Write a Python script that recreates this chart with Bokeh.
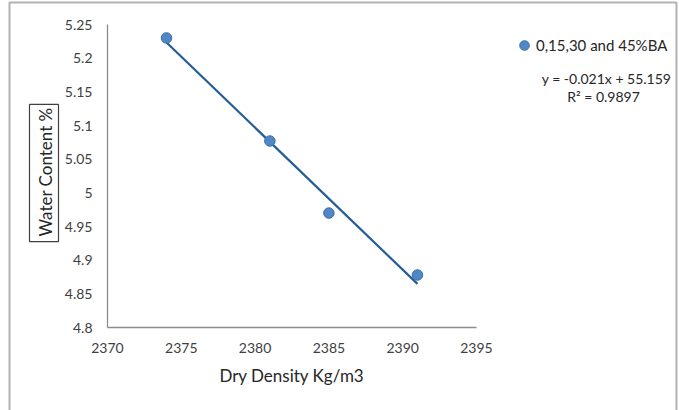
import numpy as np
from bokeh.plotting import figure
from bokeh.models import Range1d, Label, Legend, LegendItem, BoxAnnotation, FixedTicker, ColumnDataSource
from bokeh.embed import file_html
from bokeh.resources import INLINE

# data
dry_density = [2374, 2381, 2385, 2391]
water_content = [5.23, 5.077, 4.97, 4.878]
x_ticks = [2370, 2375, 2380, 2385, 2390, 2395]
y_ticks = [4.8, 4.85, 4.9, 4.95, 5.0, 5.05, 5.1, 5.15, 5.2, 5.25]
x_min, x_max = 2370, 2395
y_min, y_max = 4.8, 5.25
series_name = "0,15,30 and 45%BA"
equation_text = "y = -0.021x + 55.159"
r2_text = "R² = 0.9897"
x_title = "Dry Density Kg/m3"
y_title = "Water Content %"

FONT = "Lato"
W, H = 679, 410
# pixel placement of the axes box inside the canvas
AX_L, AX_R, AX_T, AX_B = 107, 476, 24, 327


def dx(px):
    return x_min + (px - AX_L) * (x_max - x_min) / (AX_R - AX_L)


def dy(py):
    return y_min + (AX_B - py) * (y_max - y_min) / (AX_B - AX_T)


p = figure(width=W, height=H, output_backend="svg", toolbar_location=None,
           x_range=Range1d(dx(0), dx(W)), y_range=Range1d(dy(H), dy(0)),
           min_border=0)
p.outline_line_color = None
p.grid.visible = False
p.background_fill_color = "white"
p.border_fill_color = "white"

p.xaxis.fixed_location = y_min
p.yaxis.fixed_location = x_min
p.xaxis.bounds = (x_min, x_max)
p.yaxis.bounds = (y_min, y_max)

for ax in (p.xaxis[0], p.yaxis[0]):
    ax.axis_line_color = "#8c8c8c"
    ax.axis_line_width = 1.3
    ax.major_tick_line_color = None
    ax.minor_tick_line_color = None
    ax.major_label_text_font = FONT
    ax.major_label_text_font_size = "14px"
    ax.major_label_text_color = "#404040"

p.xaxis.ticker = FixedTicker(ticks=x_ticks)
p.yaxis.ticker = FixedTicker(ticks=y_ticks)
p.xaxis.major_label_overrides = {t: str(t) for t in x_ticks}
p.yaxis.major_label_overrides = {t: ("%g" % t) for t in y_ticks}
p.xaxis.major_label_standoff = 9
p.yaxis.major_label_standoff = 9
p.xaxis.axis_label = x_title
p.xaxis.axis_label_text_font = FONT
p.xaxis.axis_label_text_font_size = "17px"
p.xaxis.axis_label_text_font_style = "normal"
p.xaxis.axis_label_text_color = "#262626"
p.xaxis.axis_label_standoff = 9

# trend line (least squares fit of the data)
coef = np.polyfit(dry_density, water_content, 1)
tx = [min(dry_density), max(dry_density)]
ty = [coef[0] * v + coef[1] for v in tx]
p.line(tx, ty, line_color="#245d97", line_width=2.2)

src = ColumnDataSource(dict(x=dry_density, y=water_content))
pts = p.scatter("x", "y", source=src, size=10.5, fill_color="#4f87c7", line_color="#3b6fa6", line_width=1)

legend = Legend(items=[LegendItem(label=series_name, renderers=[pts])],
                location=(512, H - 57), orientation="vertical",
                border_line_color=None, background_fill_alpha=0,
                label_text_font=FONT, label_text_font_size="15px", label_text_color="#262626",
                glyph_width=24, glyph_height=24, label_standoff=-4, padding=0, margin=0)
p.add_layout(legend, "center")

p.add_layout(Label(x=dx(606), y=dy(78), text=equation_text, text_font=FONT, text_font_size="14px",
                   text_color="#262626", text_align="center", text_baseline="middle"))
p.add_layout(Label(x=dx(603), y=dy(96), text=r2_text, text_font=FONT, text_font_size="14px",
                   text_color="#262626", text_align="center", text_baseline="middle"))

# boxed y-axis title
p.add_layout(Label(x=dx(43.5), y=dy(172.5), text=y_title, angle=np.pi / 2,
                   text_font=FONT, text_font_size="17px", text_color="#262626",
                   text_align="center", text_baseline="middle",
                   border_line_color="#404040", border_line_width=1.2, padding=(5, 3, 5, 3),
                   background_fill_color="white"))

# outer border
p.add_layout(BoxAnnotation(left=dx(9), right=dx(676), top=dy(2), bottom=dy(H + 20),
                           fill_alpha=0, line_color="black", line_width=2))

open("out.html", "w").write(file_html(p, INLINE))
